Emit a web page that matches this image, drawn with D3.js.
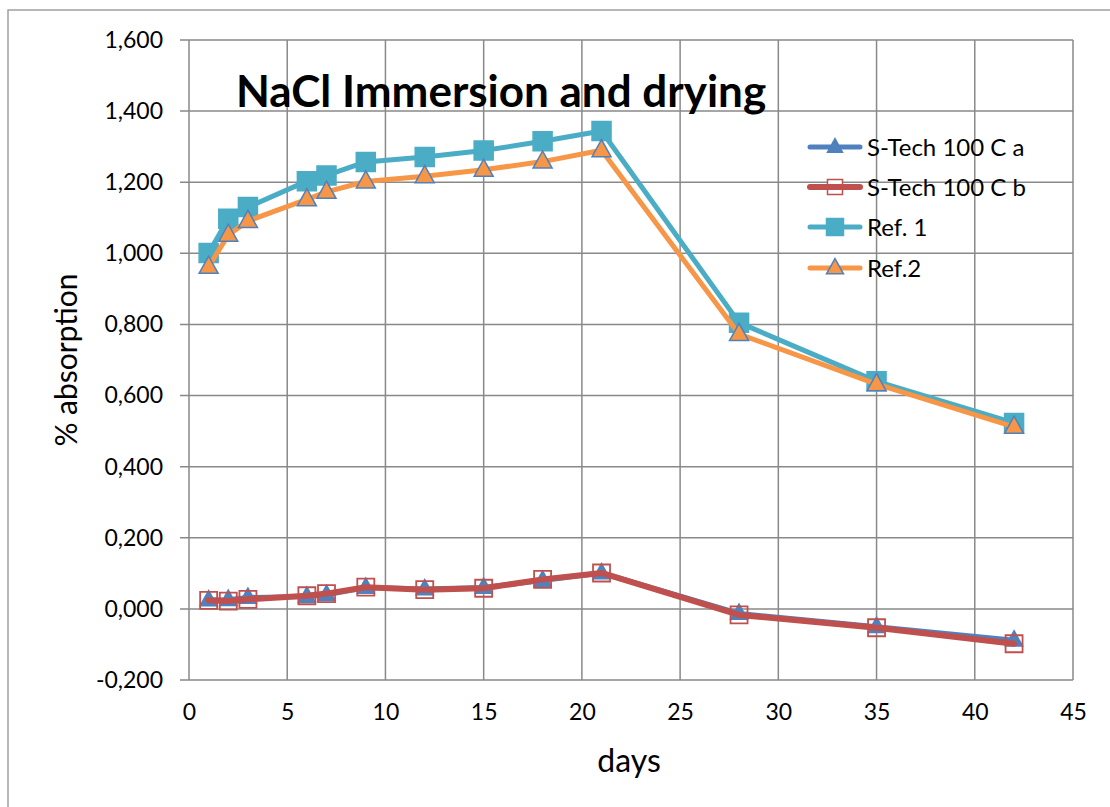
<!DOCTYPE html>
<html>
<head>
<meta charset="utf-8">
<script src="https://cdn.jsdelivr.net/npm/d3@7"></script>
<style>
  body { margin: 0; background: #fff; }
  svg text { font-family: Lato, "Open Sans", sans-serif; fill: #000; }
</style>
</head>
<body>
<div id="chart"></div>
<script>
// days of measurement
var days = [1, 2, 3, 6, 7, 9, 12, 15, 18, 21, 28, 35, 42];

var sTechA = [0.025, 0.026, 0.032, 0.035, 0.040, 0.060, 0.056, 0.060, 0.080, 0.101, -0.013, -0.050, -0.088];
var sTechB = [0.024, 0.022, 0.027, 0.037, 0.043, 0.061, 0.054, 0.058, 0.083, 0.101, -0.017, -0.053, -0.098];
var ref1   = [1.001, 1.097, 1.130, 1.203, 1.219, 1.257, 1.271, 1.289, 1.315, 1.344, 0.805, 0.640, 0.523];
var ref2   = [0.962, 1.052, 1.091, 1.152, 1.173, 1.202, 1.217, 1.235, 1.258, 1.290, 0.773, 0.632, 0.512];

var seriesNames = ["S-Tech 100 C a", "S-Tech 100 C b", "Ref. 1", "Ref.2"];
var xTicks = [0, 5, 10, 15, 20, 25, 30, 35, 40, 45];
var yTicks = [-0.2, 0, 0.2, 0.4, 0.6, 0.8, 1.0, 1.2, 1.4, 1.6];

var W = 1110, H = 807;
var margin = { top: 40, right: 37, bottom: 127, left: 189 };
var width = W - margin.left - margin.right,
    height = H - margin.top - margin.bottom;

var svg = d3.select("#chart").append("svg")
    .attr("width", W)
    .attr("height", H);

// chart border (only left/top visible in the picture)
svg.append("rect")
    .attr("x", 8).attr("y", 10)
    .attr("width", W + 20).attr("height", H + 20)
    .attr("fill", "none")
    .attr("stroke", "#a0a0a0")
    .attr("stroke-width", 1.5);

var g = svg.append("g")
    .attr("transform", "translate(" + margin.left + "," + margin.top + ")");

var x = d3.scaleLinear().domain([0, 45]).range([0, width]);
var y = d3.scaleLinear().domain([-0.2, 1.6]).range([height, 0]);

// comma as decimal mark, 3 decimals
var fmt = function(v){ return d3.format(".3f")(v).replace("−", "-").replace(".", ","); };

// gridlines
var gridColor = "#898989";
g.append("g")
    .selectAll("line.hg")
    .data(yTicks)
    .enter().append("line")
    .attr("x1", -9).attr("x2", width)
    .attr("y1", function(d){ return y(d); })
    .attr("y2", function(d){ return y(d); })
    .attr("stroke", gridColor).attr("stroke-width", 1.5);

g.append("g")
    .selectAll("line.vg")
    .data(xTicks)
    .enter().append("line")
    .attr("x1", function(d){ return x(d); })
    .attr("x2", function(d){ return x(d); })
    .attr("y1", 0).attr("y2", height)
    .attr("stroke", gridColor).attr("stroke-width", 1.5);

// axes (text only; lines drawn by grid)
var yAxis = g.append("g")
    .call(d3.axisLeft(y).tickValues(yTicks).tickFormat(fmt).tickSize(0).tickPadding(26));
yAxis.select(".domain").remove();
yAxis.selectAll("text").style("font-size", "23px").style("font-family", "Lato, sans-serif");

var xAxis = g.append("g")
    .attr("transform", "translate(0," + height + ")")
    .call(d3.axisBottom(x).tickValues(xTicks).tickFormat(d3.format("d")).tickSize(0).tickPadding(24));
xAxis.select(".domain").remove();
xAxis.selectAll("text").style("font-size", "23px").style("font-family", "Lato, sans-serif");

// axis titles
svg.append("text")
    .attr("transform", "translate(77,360) rotate(-90)")
    .attr("text-anchor", "middle")
    .style("font-size", "30px")
    .text("% absorption");

svg.append("text")
    .attr("x", 629).attr("y", 772)
    .attr("text-anchor", "middle")
    .style("font-size", "32px")
    .text("days");

// title
svg.append("text")
    .attr("x", 236).attr("y", 107)
    .style("font-size", "44px")
    .style("font-weight", "bold")
    .text("NaCl Immersion and drying");

// series
var series = [
  { name: seriesNames[0], values: sTechA, color: "#4F81BD", lw: 5, marker: "tri", fill: "#4F81BD", stroke: "#4F81BD", size: 17 },
  { name: seriesNames[1], values: sTechB, color: "#C0504D", lw: 6, marker: "sq", fill: "none", stroke: "#C0504D", size: 17 },
  { name: seriesNames[2], values: ref1, color: "#4BACC6", lw: 5, marker: "sq", fill: "#4BACC6", stroke: "#4BACC6", size: 19 },
  { name: seriesNames[3], values: ref2, color: "#F79646", lw: 5, marker: "tri", fill: "#F79646", stroke: "#4F81BD", size: 19 }
];

var line = d3.line()
    .x(function(d){ return x(d[0]); })
    .y(function(d){ return y(d[1]); });

function markerPath(type, s){
  if (type === "tri") {
    var h = s * 0.9;
    return "M0," + (-h * 0.62) + "L" + (s / 2) + "," + (h * 0.38) + "L" + (-s / 2) + "," + (h * 0.38) + "Z";
  }
  return "M" + (-s / 2) + "," + (-s / 2) + "h" + s + "v" + s + "h" + (-s) + "Z";
}

series.forEach(function(s){
  var pts = days.map(function(d, i){ return [d, s.values[i]]; });
  var sg = g.append("g");
  sg.append("path")
    .datum(pts)
    .attr("d", line)
    .attr("fill", "none")
    .attr("stroke", s.color)
    .attr("stroke-width", s.lw)
    .attr("stroke-linejoin", "round")
    .attr("stroke-linecap", "round");
  sg.selectAll("path.m")
    .data(pts)
    .enter().append("path")
    .attr("class", "m")
    .attr("transform", function(d){ return "translate(" + x(d[0]) + "," + y(d[1]) + ")"; })
    .attr("d", markerPath(s.marker, s.size))
    .attr("fill", s.fill)
    .attr("stroke", s.stroke)
    .attr("stroke-width", s.fill === "none" ? 1.8 : 1.5);
});

// legend
var legend = svg.append("g");
var rowY = [147, 187, 227, 268];
series.forEach(function(s, i){
  var lg = legend.append("g").attr("transform", "translate(0," + rowY[i] + ")");
  lg.append("line")
    .attr("x1", 810).attr("x2", 860)
    .attr("stroke", s.color).attr("stroke-width", s.lw)
    .attr("stroke-linecap", "round");
  lg.append("path")
    .attr("transform", "translate(835,0)")
    .attr("d", markerPath(s.marker, s.size - 2))
    .attr("fill", s.fill === "none" ? "#fff" : s.fill)
    .attr("stroke", s.stroke)
    .attr("stroke-width", 1.5);
  if (s.fill === "none") {
    // red line through hollow square in the legend
    lg.append("line").attr("x1", 827).attr("x2", 843)
      .attr("stroke", s.color).attr("stroke-width", s.lw);
  }
  lg.append("text")
    .attr("x", 867).attr("y", 0)
    .attr("dy", "0.36em")
    .style("font-size", "24px")
    .text(s.name);
});
</script>
</body>
</html>
